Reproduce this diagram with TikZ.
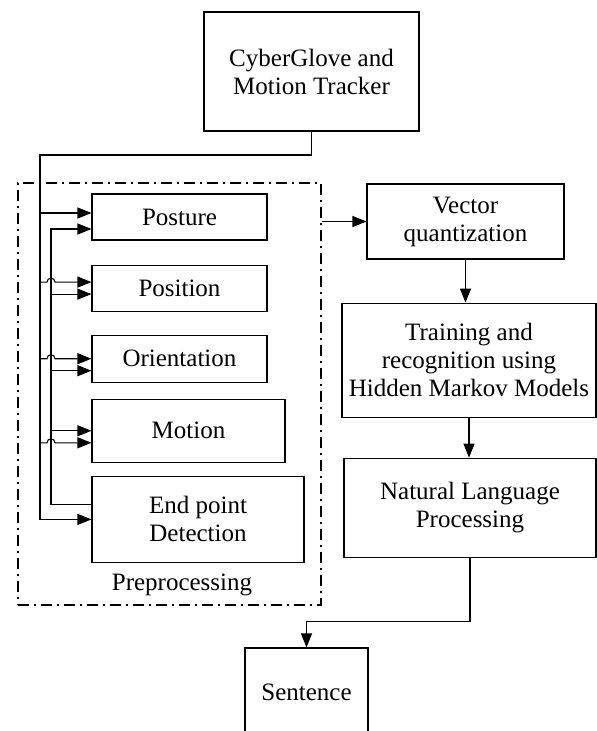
\documentclass[tikz,border=0pt]{standalone}
\usepackage{fontspec}
\setmainfont{Liberation Serif}
\usetikzlibrary{positioning,arrows.meta,calc}

\begin{document}
\begin{tikzpicture}[x=1pt,y=1pt,line width=1.1pt,>={Triangle[length=14pt,width=11pt]},
	box/.style={draw,align=center,inner sep=0pt,font=\fontsize{25}{28}\selectfont},
	dashdot/.style={dash pattern=on 11pt off 5pt on 2pt off 5pt}]

\useasboundingbox (0,0) rectangle (597,-731);

\node [box,minimum width=215,minimum height=119] (glove) at (311.5,-71.5) {CyberGlove and\\Motion Tracker};

\node [draw,dashdot,inner sep=0pt,minimum width=303,minimum height=422] (prep) at (169.5,-394) {};
\node [box,draw=none] (preplbl) at (182,-585) {Preprocessing};

\node [box,minimum width=175,minimum height=46] (post) at (179.5,-217) {Posture};
\node [box,minimum width=175,minimum height=46] (pos) [below=24 of post] {Position};
\node [box,minimum width=175,minimum height=47] (ori) [below=23 of pos] {Orientation};
\node [box,minimum width=193,minimum height=63] (mot) [below=16 of ori.south west,anchor=north west] {Motion};
\node [box,minimum width=212,minimum height=86] (endp) [below=13 of mot.south west,anchor=north west] {End point\\Detection};

\node [box,minimum width=197,minimum height=75] (vq) at (465.5,-221.5) {Vector\\quantization};
\node [box,minimum width=254,minimum height=114] (hmm) [below=43 of vq,xshift=3.5] {Training and\\recognition using\\Hidden Markov Models};
\node [box,minimum width=252,minimum height=99] (nlp) [below=40 of hmm,xshift=1] {Natural Language\\Processing};
\node [box,minimum width=123,minimum height=88] (sent) at (306.5,-692) {Sentence};

\coordinate (busa) at (40,-155);
\coordinate (busb) at (51,-229);

% outer bus from the glove
\draw [->] (glove.south) |- (busa) |- (endp.west);
\draw [->] ($(busa |- post.west)+(0,4)$) -- ($(post.west)+(0,4)$);
\draw [->] ($(busa |- pos.west)+(0,6)$) -- ($(busb |- pos.west)+(-4,6)$)
	arc [start angle=180,end angle=0,radius=4] -- ($(pos.west)+(0,6)$);
\draw [->] (busa |- ori.west) -- ($(busb |- ori.west)+(-4,0)$)
	arc [start angle=180,end angle=0,radius=4] -- (ori.west);
\draw [->] ($(busa |- mot.west)+(0,-12)$) -- ($(busb |- mot.west)+(-4,-12)$)
	arc [start angle=180,end angle=0,radius=4] -- ($(mot.west)+(0,-12)$);

% inner bus back from end point detection
\draw [->] ($(endp.west)+(0,15)$) -| (busb) -- ($(post.west)+(0,-12)$);
\draw [->] ($(busb |- pos.west)+(0,-6)$) -- ($(pos.west)+(0,-6)$);
\draw [->] ($(busb |- ori.west)+(0,-12)$) -- ($(ori.west)+(0,-12)$);
\draw [->] (busb |- mot.west) -- (mot.west);

\draw [->] (prep.east |- vq.west) -- (vq.west);
\draw [->] (vq.south) -- (vq.south |- hmm.north);
\draw [->] (hmm.south) -- (hmm.south |- nlp.north);
\draw [->] (nlp.south) -- ++(0,-64) -| (sent.north);

\end{tikzpicture}
\end{document}
